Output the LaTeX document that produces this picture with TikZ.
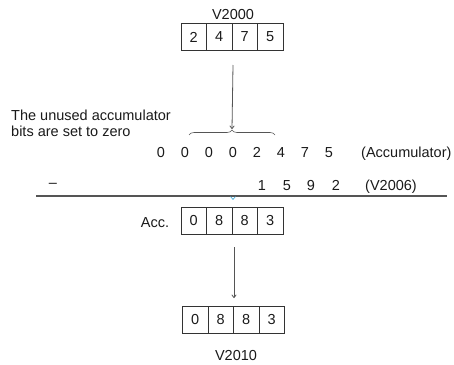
\documentclass[tikz,border=0pt]{standalone}
\usepackage{fontspec}
\setmainfont{Liberation Sans}
\usetikzlibrary{arrows.meta,decorations.pathreplacing}
\definecolor{ln}{HTML}{555555}
\definecolor{bx}{HTML}{333333}
\definecolor{tx}{HTML}{1A1A1A}
\definecolor{tick}{HTML}{3FA9D8}
\tikzset{
  cell/.style={draw=bx,line width=0.8pt,minimum width=25.5pt,minimum height=27pt,inner sep=0pt,outer sep=0pt,text=tx,font=\fontsize{14.5}{17}\selectfont},
  lbl/.style={inner sep=0pt,text=tx,font=\fontsize{14.5}{17}\selectfont},
  conn/.style={draw=ln,line width=0.8pt,-{To[length=3.5pt,width=5pt]}},
}
\begin{document}
\begin{tikzpicture}[x=1pt,y=-1pt]
\useasboundingbox (0,0) rectangle (454,364);
% top register V2000
\node[lbl,anchor=base] (v2000) at (233,19) {V2000};
\node[cell,anchor=north west] (a1) at (181,23.5) {2};
\node[cell,anchor=west] (a2) at (a1.east) {4};
\node[cell,anchor=west] (a3) at (a2.east) {7};
\node[cell,anchor=west] (a4) at (a3.east) {5};
% note
\node[lbl,anchor=base west] (note) at (11,120) {The unused accumulator};
\node[lbl,anchor=base west] (note2) at (11,136) {bits are set to zero};
% brace
\coordinate (bl) at (189,135);
\coordinate (br) at (275,135);
\draw[ln,line width=0.6pt,decorate,decoration={brace,amplitude=5pt}] (bl) -- (br);
\coordinate (btip) at (232,129);
\coordinate (a23) at (233,65);
\draw[conn] (a23) -- (btip);
% accumulator row
\foreach \d/\x [count=\i] in {0/161,0/185,0/209,0/233,2/257,4/281,7/305,5/329}
  \node[lbl,anchor=base] (r\i) at (\x,157) {\d};
\node[lbl,anchor=base west] (accl) at (361,157) {(Accumulator)};
% V2006 row
\node[lbl] (minus) at (53,185) {–};
\foreach \d/\x [count=\i] in {1/262,5/287,9/311,2/336}
  \node[lbl,anchor=base] (s\i) at (\x,190) {\d};
\node[lbl,anchor=base west] (v2006) at (365,190) {(V2006)};
% rule
\coordinate (rl) at (36,196);
\coordinate (rr) at (447,196);
\draw[ln,line width=1.3pt] (rl) -- (rr);
\draw[tick,line width=0.6pt] (230.5,196.5) -- (233,199.5) -- (235.5,196.5);
% Acc result
\node[lbl,anchor=base] (acc) at (155,227) {Acc.};
\node[cell,anchor=north west] (b1) at (181,207.5) {0};
\node[cell,anchor=west] (b2) at (b1.east) {8};
\node[cell,anchor=west] (b3) at (b2.east) {8};
\node[cell,anchor=west] (b4) at (b3.east) {3};
% arrow down
\coordinate (b23) at (234,247);
\coordinate (c23) at (234,298);
\draw[conn] (b23) -- (c23);
% bottom register V2010
\node[cell,anchor=north west] (c1) at (182.5,306.5) {0};
\node[cell,anchor=west] (c2) at (c1.east) {8};
\node[cell,anchor=west] (c3) at (c2.east) {8};
\node[cell,anchor=west] (c4) at (c3.east) {3};
\node[lbl,anchor=base] (v2010) at (236,360) {V2010};
\end{tikzpicture}
\end{document}
